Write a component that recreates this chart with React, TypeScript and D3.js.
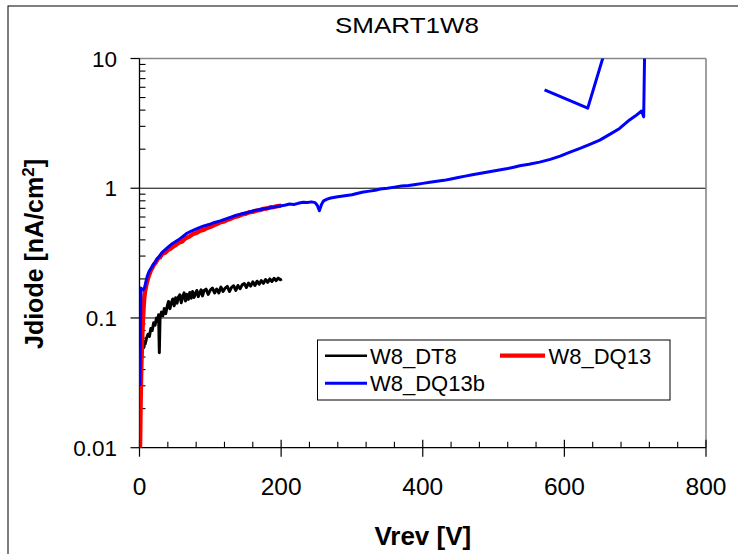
import React from "react";
import * as d3 from "d3";

const title = "SMART1W8";
const xTicks = [0, 200, 400, 600, 800];
const yTicks = [0.01, 0.1, 1, 10];
const yTickLabels = ["0.01", "0.1", "1", "10"];
const seriesNames = ["W8_DT8", "W8_DQ13", "W8_DQ13b"];
const seriesColors = ["#000000", "#ff0000", "#0000ff"];

// W8_DT8 (black)
const dt8V = [0.5, 1, 2, 3, 4, 5, 6, 7, 8, 10, 12, 14, 16, 18, 20, 22, 24, 26, 27, 28, 29, 31, 33, 35, 37, 39, 41, 43, 45, 47, 49, 51, 53, 55, 57, 59, 61, 63, 65, 67, 69, 71, 73, 75, 77, 79, 81, 83, 85, 87, 89, 91, 94, 97, 100, 103, 106, 109, 112, 115, 118, 121, 124, 127, 130, 133, 136, 139, 142, 145, 148, 151, 154, 157, 160, 163, 166, 169, 172, 175, 178, 181, 184, 187, 190, 193, 196, 199, 201];
const dt8J = [0.034, 0.037, 0.043, 0.05, 0.056, 0.062, 0.059, 0.066, 0.063, 0.07, 0.075, 0.072, 0.083, 0.08, 0.092, 0.088, 0.1, 0.094, 0.106, 0.054, 0.1, 0.111, 0.104, 0.118, 0.108, 0.122, 0.134, 0.118, 0.131, 0.14, 0.124, 0.143, 0.13, 0.145, 0.151, 0.131, 0.146, 0.156, 0.135, 0.152, 0.139, 0.157, 0.142, 0.16, 0.144, 0.154, 0.163, 0.146, 0.156, 0.165, 0.148, 0.162, 0.167, 0.152, 0.164, 0.17, 0.156, 0.167, 0.156, 0.173, 0.16, 0.17, 0.175, 0.16, 0.172, 0.177, 0.163, 0.178, 0.168, 0.18, 0.184, 0.172, 0.186, 0.176, 0.19, 0.178, 0.192, 0.182, 0.194, 0.185, 0.198, 0.188, 0.2, 0.191, 0.202, 0.194, 0.203, 0.197, 0.2];

// W8_DQ13 (red)
const dq13V = [0.3, 1, 1.5, 2, 2.5, 3, 4, 5, 6, 7, 8, 10, 12, 14, 16, 18, 20, 23, 26, 29, 32, 36, 40, 44, 48, 52, 56, 60, 65, 70, 75, 80, 85, 90, 95, 100, 105, 110, 115, 120, 125, 130, 135, 140, 145, 150, 155, 160, 165, 170, 175, 180, 185, 190, 195, 200];
const dq13J = [0.008, 0.012, 0.02, 0.03, 0.04, 0.052, 0.075, 0.1, 0.125, 0.148, 0.162, 0.183, 0.202, 0.218, 0.232, 0.243, 0.256, 0.268, 0.287, 0.293, 0.312, 0.318, 0.333, 0.343, 0.357, 0.368, 0.382, 0.388, 0.412, 0.423, 0.442, 0.452, 0.468, 0.477, 0.493, 0.503, 0.518, 0.532, 0.548, 0.556, 0.573, 0.586, 0.603, 0.611, 0.628, 0.636, 0.653, 0.657, 0.672, 0.678, 0.693, 0.698, 0.713, 0.717, 0.728, 0.733];

// W8_DQ13b (blue); NaN marks a break in the trace
const dq13bV = [0.5, 1, 1.5, 2, 5, 7, 9, 11, 13, 15, 18, 21, 24, 28, 32, 36, 40, 45, 50, 55, 60, 67, 74, 82, 90, 98, 106, 114, 122, 130, 137, 145, 153, 161, 170, 180, 190, 198, 205, 212, 218, 224, 231, 237, 243, 248, 251, 254, 257, 260, 265, 270, 280, 290, 300, 307, 316, 325, 333, 340, 350, 360, 370, 380, 390, 400, 410, 420, 430, 440, 450, 460, 470, 480, 490, 500, 510, 520, 530, 537, 550, 565, 580, 594, 608, 622, 636, 650, 664, 678, 692, 700, 709, 712, 714, NaN, 572, 633, 660];
const dq13bJ = [0.03, 0.05, 0.1, 0.17, 0.165, 0.17, 0.19, 0.21, 0.225, 0.235, 0.25, 0.265, 0.28, 0.3, 0.32, 0.335, 0.35, 0.37, 0.385, 0.4, 0.42, 0.45, 0.47, 0.49, 0.51, 0.525, 0.545, 0.56, 0.58, 0.6, 0.62, 0.635, 0.65, 0.67, 0.685, 0.7, 0.715, 0.73, 0.74, 0.755, 0.75, 0.765, 0.78, 0.775, 0.785, 0.775, 0.74, 0.67, 0.75, 0.8, 0.825, 0.84, 0.86, 0.875, 0.89, 0.91, 0.935, 0.95, 0.965, 0.985, 1.0, 1.02, 1.04, 1.05, 1.07, 1.09, 1.11, 1.13, 1.15, 1.18, 1.21, 1.24, 1.27, 1.3, 1.33, 1.36, 1.39, 1.42, 1.46, 1.49, 1.53, 1.59, 1.67, 1.77, 1.9, 2.03, 2.18, 2.35, 2.6, 2.89, 3.36, 3.6, 3.94, 3.55, 20, NaN, 5.72, 4.14, 12.8];

const W = 738;
const H = 554;
const left = 139.5;
const right = 706;
const top = 58.5;
const bottom = 447.7;
const font = "'Liberation Sans', Arial, sans-serif";

export default function App() {
  const x = d3.scaleLinear().domain([0, 800]).range([left, right]);
  const y = d3.scaleLog().domain([0.01, 10]).range([bottom, top]);

  const toPts = (vs: number[], js: number[]) => vs.map((v, i) => ({ v, j: js[i] }));
  const line = d3
    .line<{ v: number; j: number }>()
    .defined((d) => !isNaN(d.v) && !isNaN(d.j))
    .x((d) => x(d.v))
    .y((d) => y(d.j));

  const series = [
    { pts: toPts(dt8V, dt8J), color: seriesColors[0], w: 3 },
    { pts: toPts(dq13V, dq13J), color: seriesColors[1], w: 4.4 },
    { pts: toPts(dq13bV, dq13bJ), color: seriesColors[2], w: 3 },
  ];

  const minorY: number[] = [];
  for (const d of [0.01, 0.1, 1]) for (let k = 2; k <= 9; k++) minorY.push(d * k);
  const minorX = d3.range(40, 800, 40).filter((v) => v % 200 !== 0);

  return (
    <svg
      width={W}
      height={H}
      style={{ position: "absolute", left: 0, top: 0, background: "#fff" }}
      fontFamily={font}
    >
      <defs>
        <clipPath id="plot">
          <rect x={left} y={top} width={right - left} height={bottom - top} />
        </clipPath>
      </defs>
      <rect x={8} y={6} width={W + 20} height={H + 20} fill="#fff" stroke="#000" strokeWidth={1} />

      <text x={407} y={32.7} textAnchor="middle" fontSize={22.5} textLength={144} lengthAdjust="spacingAndGlyphs">
        {title}
      </text>

      {/* gridlines */}
      {[0.1, 1].map((t) => (
        <line key={"g" + t} x1={left} x2={right} y1={y(t)} y2={y(t)} stroke="#000" strokeWidth={1} />
      ))}
      {/* frame: top and right gray */}
      <line x1={left} x2={right} y1={top} y2={top} stroke="#888" strokeWidth={1.6} />
      <line x1={right} x2={right} y1={top} y2={bottom} stroke="#888" strokeWidth={1.6} />

      {/* y axis */}
      <line x1={left} x2={left} y1={top} y2={bottom} stroke="#000" strokeWidth={1.3} />
      {yTicks.map((t, i) => (
        <g key={"yt" + t}>
          <line x1={left - 9} x2={left} y1={y(t)} y2={y(t)} stroke="#000" strokeWidth={1.2} />
          <text x={117} y={y(t) + 8} textAnchor="end" fontSize={22.5}>
            {yTickLabels[i]}
          </text>
        </g>
      ))}
      {minorY.map((t) => (
        <line key={"ym" + t} x1={left} x2={left + 6} y1={y(t)} y2={y(t)} stroke="#000" strokeWidth={1.1} />
      ))}

      {/* x axis */}
      <line x1={left} x2={right} y1={bottom} y2={bottom} stroke="#000" strokeWidth={1.3} />
      {xTicks.map((t) => (
        <g key={"xt" + t}>
          <line x1={x(t)} x2={x(t)} y1={bottom - 8} y2={bottom + 9} stroke="#000" strokeWidth={1.2} />
          <text x={x(t)} y={495} textAnchor="middle" fontSize={24.5}>
            {t}
          </text>
        </g>
      ))}
      {minorX.map((t) => (
        <line key={"xm" + t} x1={x(t)} x2={x(t)} y1={bottom - 6} y2={bottom} stroke="#000" strokeWidth={1.1} />
      ))}

      {/* series */}
      <g clipPath="url(#plot)">
        {series.map((s, i) => (
          <path key={i} d={line(s.pts) || ""} fill="none" stroke={s.color} strokeWidth={s.w} strokeLinejoin="round" />
        ))}
      </g>

      {/* legend */}
      <rect x={317.5} y={340} width={352.5} height={60} fill="#fff" stroke="#000" strokeWidth={1} />
      <line x1={325} x2={367} y1={355.7} y2={355.7} stroke={seriesColors[0]} strokeWidth={2.6} />
      <text x={370} y={363.5} fontSize={22}>{seriesNames[0]}</text>
      <line x1={500} x2={545} y1={355.7} y2={355.7} stroke={seriesColors[1]} strokeWidth={4.2} />
      <text x={548.5} y={363.5} fontSize={22}>{seriesNames[1]}</text>
      <line x1={325} x2={367} y1={383.3} y2={383.3} stroke={seriesColors[2]} strokeWidth={3} />
      <text x={370} y={391} fontSize={22}>{seriesNames[2]}</text>

      {/* axis titles */}
      <text x={422.8} y={545} textAnchor="middle" fontSize={26} fontWeight="bold">
        Vrev [V]
      </text>
      <text
        transform={`translate(43,254) rotate(-90)`}
        textAnchor="middle"
        fontSize={25}
        fontWeight="bold"
      >
        Jdiode [nA/cm
        <tspan dy={-9} fontSize={17}>2</tspan>
        <tspan dy={9}>]</tspan>
      </text>
    </svg>
  );
}
